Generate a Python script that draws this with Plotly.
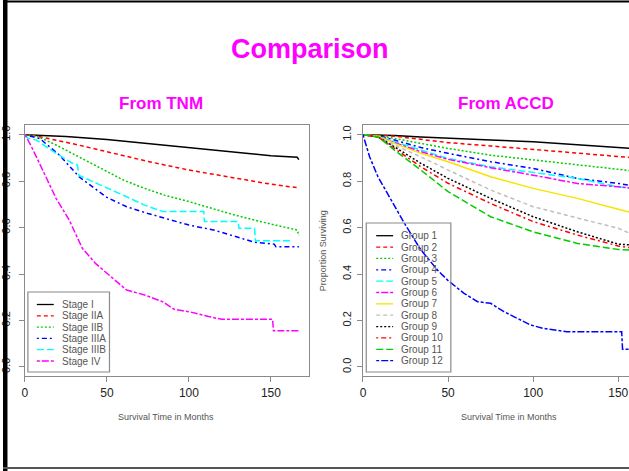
import plotly.graph_objects as go

W, H = 629, 471

# ---------------- data ----------------
tnm_labels = ["Stage I", "Stage IIA", "Stage IIB", "Stage IIIA", "Stage IIIB", "Stage IV"]
tnm_time = [
    [0, 10, 25, 50, 75, 100, 125, 150, 166, 167],
    [0, 5, 10, 19, 30, 50, 75, 100, 128, 150, 166, 167],
    [0, 7, 19, 30, 40, 50, 60, 73, 85, 100, 115, 128, 150, 166, 167],
    [0, 9, 21, 33, 50, 62, 75, 88, 100, 115, 128, 140, 152, 153, 167],
    [0, 2, 7, 19, 29, 32, 33, 50, 62, 73, 84, 109, 109.5, 130, 130.5, 140, 140.5, 162],
    [0, 3, 7, 13, 19, 27, 35, 43, 50, 62, 73, 84, 91, 100, 112, 120, 151, 151.5, 167],
]
tnm_surv = [
    [1.0, 0.998, 0.993, 0.98, 0.962, 0.943, 0.925, 0.91, 0.903, 0.893],
    [1.0, 0.997, 0.99, 0.977, 0.96, 0.927, 0.885, 0.848, 0.812, 0.787, 0.772, 0.765],
    [1.0, 0.995, 0.956, 0.915, 0.877, 0.841, 0.805, 0.769, 0.74, 0.712, 0.68, 0.654, 0.615, 0.59, 0.565],
    [1.0, 0.984, 0.913, 0.819, 0.73, 0.69, 0.661, 0.635, 0.611, 0.59, 0.564, 0.537, 0.529, 0.518, 0.518],
    [1.0, 0.985, 0.977, 0.92, 0.877, 0.87, 0.825, 0.769, 0.733, 0.697, 0.669, 0.669, 0.626, 0.626, 0.597, 0.597, 0.544, 0.544],
    [1.0, 0.963, 0.905, 0.819, 0.726, 0.633, 0.511, 0.446, 0.403, 0.331, 0.31, 0.281, 0.248, 0.238, 0.217, 0.205, 0.205, 0.156, 0.156],
]

accd_labels = ["Group %d" % i for i in range(1, 13)]
accd_time = [0, 9, 18.5, 34, 50, 75, 100, 126, 150, 160]
accd_surv = [
    [1.0, 1.0, 0.997, 0.99, 0.984, 0.977, 0.970, 0.956, 0.944, 0.94],
    [1.0, 0.999, 0.994, 0.98, 0.966, 0.952, 0.937, 0.92, 0.908, 0.90],
    [1.0, 0.997, 0.984, 0.963, 0.941, 0.912, 0.891, 0.869, 0.851, 0.843],
    [1.0, 0.995, 0.977, 0.945, 0.920, 0.884, 0.855, 0.812, 0.79, 0.778],
    [1.0, 0.993, 0.970, 0.934, 0.898, 0.862, 0.836, 0.812, 0.776, 0.768],
    [1.0, 0.992, 0.966, 0.927, 0.894, 0.858, 0.826, 0.790, 0.776, 0.768],
    [1.0, 0.994, 0.963, 0.920, 0.884, 0.819, 0.769, 0.726, 0.679, 0.66],
    [1.0, 0.99, 0.955, 0.905, 0.848, 0.762, 0.69, 0.64, 0.597, 0.565],
    [1.0, 0.99, 0.948, 0.877, 0.812, 0.726, 0.647, 0.582, 0.529, 0.524],
    [1.0, 0.99, 0.941, 0.862, 0.791, 0.704, 0.626, 0.568, 0.521, 0.51],
    [1.0, 0.99, 0.934, 0.848, 0.755, 0.647, 0.582, 0.532, 0.506, 0.503],
]
group12_time = [0, 3.9, 8.8, 16.6, 24.4, 34, 43.8, 49.7, 59.4, 67.3, 75, 82.8, 90.6, 98.4, 106, 119.8, 152, 152.5, 160]
group12_surv = [1.0, 0.905, 0.819, 0.719, 0.618, 0.504, 0.417, 0.374, 0.317, 0.281, 0.274, 0.238, 0.209, 0.181, 0.166, 0.152, 0.152, 0.076, 0.076]

x_ticks = [0, 50, 100, 150]
y_ticks = [0.0, 0.2, 0.4, 0.6, 0.8, 1.0]
y_ticktext = ["0.0", "0.2", "0.4", "0.6", "0.8", "1.0"]

# ---------------- styles (R col / lty cycles) ----------------
r_cols = ["#000000", "#FF0000", "#00CD00", "#0000FF", "#00FFFF", "#FF00FF", "#F5E400", "#BEBEBE"]
r_dash = ["solid", "4px,3px", "2px,2px", "2px,3px,5px,3px", "7px,3px", "3px,2px,7px,2px"]


def px(x):
    return x / W


def py(y):
    return 1 - y / H


fig = go.Figure()

for i, lab in enumerate(tnm_labels):
    fig.add_trace(go.Scatter(x=tnm_time[i], y=tnm_surv[i], mode="lines", name=lab,
                             line=dict(color=r_cols[i % 8], dash=r_dash[i % 6], width=1.5),
                             xaxis="x", yaxis="y", showlegend=False))

all_t = [accd_time] * 11 + [group12_time]
all_s = accd_surv + [group12_surv]
for i, lab in enumerate(accd_labels):
    fig.add_trace(go.Scatter(x=all_t[i], y=all_s[i], mode="lines", name=lab,
                             line=dict(color=r_cols[i % 8], dash=r_dash[i % 6], width=1.5),
                             xaxis="x2", yaxis="y2", showlegend=False))

box_col = "#8a8a8a"
tickfont = dict(family="Liberation Sans, Arial, sans-serif", size=12, color="#222222")
ytickfont = dict(family="Liberation Sans, Arial, sans-serif", size=11, color="#222222")
common_x = dict(tickvals=x_ticks, ticks="outside", ticklen=5, tickcolor=box_col, showline=True,
                linecolor=box_col, linewidth=1.2, mirror=True, showgrid=False, zeroline=False,
                tickfont=tickfont)
common_y = dict(tickvals=y_ticks, ticktext=y_ticktext, ticks="outside", ticklen=5, tickcolor=box_col,
                showline=True, linecolor=box_col, linewidth=1.2, showgrid=False, zeroline=False,
                tickangle=-90, tickfont=ytickfont, range=[-0.039, 1.042],
                domain=[py(376), py(125)])

fig.update_layout(
    width=W, height=H, margin=dict(l=0, r=0, t=0, b=0),
    paper_bgcolor="white", plot_bgcolor="white",
    xaxis=dict(common_x, domain=[px(22), px(307)], range=[0, 172.9], anchor="y"),
    yaxis=dict(common_y, anchor="x", mirror=True, ticklabelstandoff=4),
    xaxis2=dict(common_x, domain=[px(361.7), 1.0], range=[0, 156.3], anchor="y2"),
    yaxis2=dict(common_y, anchor="x2", mirror=False, ticklabelstandoff=1),
)

ann = []
font_title = "Liberation Sans, Arial, sans-serif"


def text_at(text, x, y, size, color, bold=False, angle=0, xanchor="center"):
    ann.append(dict(text=("<b>%s</b>" % text) if bold else text, x=px(x), y=py(y),
                    xref="paper", yref="paper", xanchor=xanchor, yanchor="middle",
                    showarrow=False, textangle=angle,
                    font=dict(family=font_title, size=size, color=color)))


text_at("Comparison", 308, 49, 27, "#FF00FF", bold=True)
text_at("From TNM", 158.5, 104, 17, "#FF00FF", bold=True)
text_at("From ACCD", 505, 104, 17, "#FF00FF", bold=True)
for cx in (163.5, 508):
    text_at("Survival Time in Months", cx, 417, 9, "#555555")
text_at("Proportion Surviving", 321.7, 251, 9, "#555555", angle=-90)

shapes = []


def add_legend(labels, x0, x1, y0, y1, line_x0, line_x1, text_x, first_y, step):
    shapes.append(dict(type="rect", xref="paper", yref="paper", x0=px(x0), x1=px(x1), y0=py(y1), y1=py(y0),
                       line=dict(color=box_col, width=1.2), fillcolor="rgba(0,0,0,0)"))
    for i, lab in enumerate(labels):
        yy = first_y + i * step
        shapes.append(dict(type="line", xref="paper", yref="paper", x0=px(line_x0), x1=px(line_x1),
                           y0=py(yy), y1=py(yy),
                           line=dict(color=r_cols[i % 8], dash=r_dash[i % 6], width=1.3)))
        text_at(lab, text_x, yy, 10, "#555555", xanchor="left")


add_legend(tnm_labels, 25, 107, 292, 372, 34, 51, 57, 304.5, 11.3)
add_legend(accd_labels, 365, 450, 223, 372, 375, 392, 398, 235.7, 11.36)

# slide frame
shapes.append(dict(type="rect", xref="paper", yref="paper", x0=0, x1=px(4.5), y0=0, y1=1,
                   fillcolor="black", line=dict(width=0), layer="above"))
shapes.append(dict(type="line", xref="paper", yref="paper", x0=0, x1=1, y0=py(1.5), y1=py(1.5),
                   line=dict(color="black", width=2), layer="above"))
shapes.append(dict(type="line", xref="paper", yref="paper", x0=0, x1=1, y0=py(468), y1=py(468),
                   line=dict(color="#555555", width=2), layer="above"))

fig.update_layout(annotations=ann, shapes=shapes)
fig.write_html("out.html", config={"displayModeBar": False},
               post_script="document.body.style.margin='0';document.body.style.padding='0';")
